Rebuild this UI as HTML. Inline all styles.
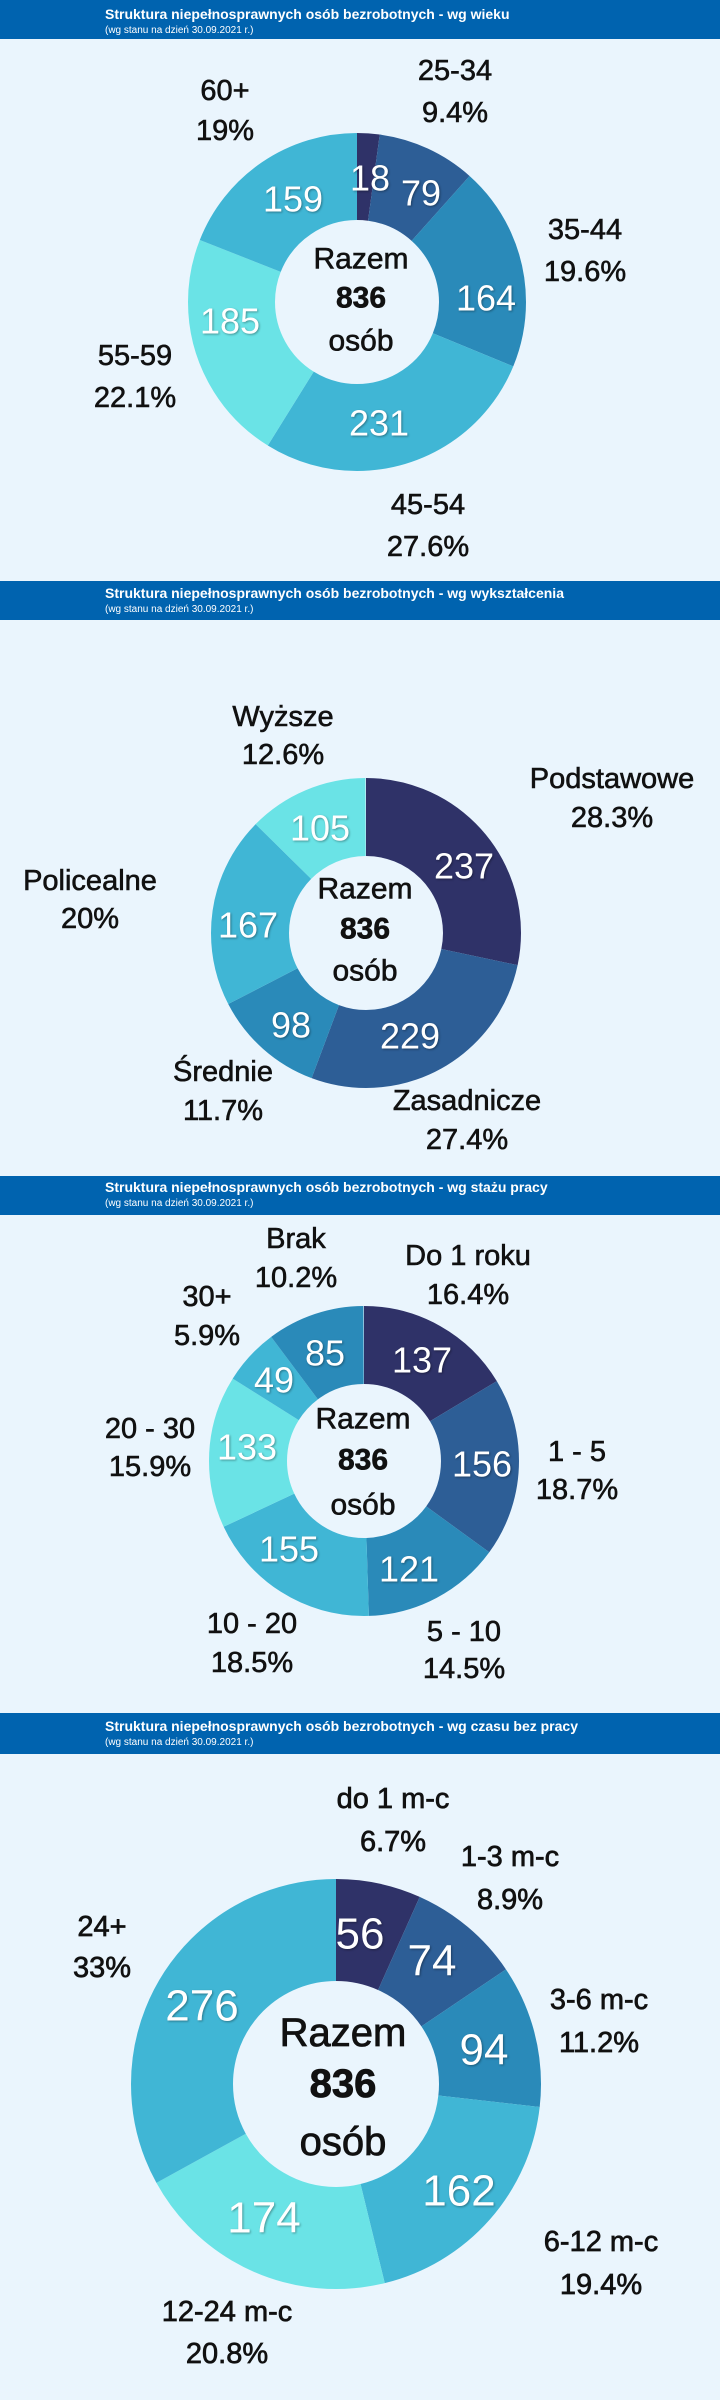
<!DOCTYPE html>
<html><head><meta charset="utf-8"><style>
html,body{margin:0;padding:0;background:#eaf5fd;}
svg{display:block}
.h{fill:#fff;font-family:"Liberation Sans Narrow","Liberation Sans",sans-serif;}
.l{font-family:"Liberation Sans",sans-serif;font-size:29px;fill:#111;stroke:#111;stroke-width:0.6;text-anchor:middle;dominant-baseline:central}
.l4{font-family:"Liberation Sans",sans-serif;font-size:29px;fill:#111;stroke:#111;stroke-width:0.7;text-anchor:middle;dominant-baseline:central}
.v{font-family:"Liberation Sans",sans-serif;font-size:36px;fill:#fff;text-anchor:middle;dominant-baseline:central;text-shadow:1px 1px 2px rgba(0,0,0,.35)}
.v4{font-family:"Liberation Sans",sans-serif;font-size:44px;fill:#fff;text-anchor:middle;dominant-baseline:central;text-shadow:1px 1px 2px rgba(0,0,0,.35)}
.c{font-family:"Liberation Sans",sans-serif;font-size:30px;fill:#111;stroke:#111;stroke-width:0.6;text-anchor:middle;dominant-baseline:central}
.c4{font-family:"Liberation Sans",sans-serif;font-size:40px;fill:#111;stroke:#111;stroke-width:0.8;text-anchor:middle;dominant-baseline:central}
.b{font-weight:bold}
</style></head><body>
<svg width="720" height="2400" viewBox="0 0 720 2400" xmlns="http://www.w3.org/2000/svg">
<rect width="720" height="2400" fill="#eaf5fd"/>

<rect x="0" y="0" width="720" height="39" fill="#0063af"/>
<text class="h b" x="105" y="19" font-size="14">Struktura niepełnosprawnych osób bezrobotnych - wg wieku</text>
<text class="h" x="105" y="33" font-size="10">(wg stanu na dzień 30.09.2021 r.)</text>

<rect x="0" y="581" width="720" height="39" fill="#0063af"/>
<text class="h b" x="105" y="598" font-size="14">Struktura niepełnosprawnych osób bezrobotnych - wg wykształcenia</text>
<text class="h" x="105" y="612" font-size="10">(wg stanu na dzień 30.09.2021 r.)</text>

<rect x="0" y="1176" width="720" height="39" fill="#0063af"/>
<text class="h b" x="105" y="1192" font-size="14">Struktura niepełnosprawnych osób bezrobotnych - wg stażu pracy</text>
<text class="h" x="105" y="1206" font-size="10">(wg stanu na dzień 30.09.2021 r.)</text>

<rect x="0" y="1713" width="720" height="41" fill="#0063af"/>
<text class="h b" x="105" y="1731" font-size="14">Struktura niepełnosprawnych osób bezrobotnych - wg czasu bez pracy</text>
<text class="h" x="105" y="1745" font-size="10">(wg stanu na dzień 30.09.2021 r.)</text>

<g transform="translate(357,302) rotate(-90)" fill="none" stroke-width="87">
<circle r="125.5" pathLength="836" stroke="#2f3268" stroke-dasharray="18 836" stroke-dashoffset="0"/>
<circle r="125.5" pathLength="836" stroke="#2d5e96" stroke-dasharray="79 836" stroke-dashoffset="-18"/>
<circle r="125.5" pathLength="836" stroke="#2a8ab9" stroke-dasharray="164 836" stroke-dashoffset="-97"/>
<circle r="125.5" pathLength="836" stroke="#40b6d5" stroke-dasharray="231 836" stroke-dashoffset="-261"/>
<circle r="125.5" pathLength="836" stroke="#6ae3e6" stroke-dasharray="185 836" stroke-dashoffset="-492"/>
<circle r="125.5" pathLength="836" stroke="#40b6d5" stroke-dasharray="159 836" stroke-dashoffset="-677"/>
</g>
<text class="v" x="370" y="178">18</text>
<text class="v" x="421" y="193">79</text>
<text class="v" x="486" y="298">164</text>
<text class="v" x="379" y="423">231</text>
<text class="v" x="230" y="321">185</text>
<text class="v" x="293" y="199">159</text>
<text class="c" x="361" y="259">Razem</text>
<text class="c b" x="361" y="298">836</text>
<text class="c" x="361" y="341">osób</text>
<text class="l" x="455" y="71">25-34</text><text class="l" x="455" y="113">9.4%</text>
<text class="l" x="225" y="91">60+</text><text class="l" x="225" y="131">19%</text>
<text class="l" x="585" y="230">35-44</text><text class="l" x="585" y="272">19.6%</text>
<text class="l" x="135" y="356">55-59</text><text class="l" x="135" y="398">22.1%</text>
<text class="l" x="428" y="505">45-54</text><text class="l" x="428" y="547">27.6%</text>

<g transform="translate(366,933) rotate(-90)" fill="none" stroke-width="78">
<circle r="116" pathLength="836" stroke="#2f3268" stroke-dasharray="237 836" stroke-dashoffset="0"/>
<circle r="116" pathLength="836" stroke="#2d5e96" stroke-dasharray="229 836" stroke-dashoffset="-237"/>
<circle r="116" pathLength="836" stroke="#2a8ab9" stroke-dasharray="98 836" stroke-dashoffset="-466"/>
<circle r="116" pathLength="836" stroke="#40b6d5" stroke-dasharray="167 836" stroke-dashoffset="-564"/>
<circle r="116" pathLength="836" stroke="#6ae3e6" stroke-dasharray="105 836" stroke-dashoffset="-731"/>
</g>
<text class="v" x="464" y="866">237</text>
<text class="v" x="410" y="1036">229</text>
<text class="v" x="291" y="1025">98</text>
<text class="v" x="248" y="925">167</text>
<text class="v" x="320" y="828">105</text>
<text class="c" x="365" y="889">Razem</text>
<text class="c b" x="365" y="929">836</text>
<text class="c" x="365" y="971">osób</text>
<text class="l" x="283" y="717">Wyższe</text><text class="l" x="283" y="755">12.6%</text>
<text class="l" x="612" y="779">Podstawowe</text><text class="l" x="612" y="818">28.3%</text>
<text class="l" x="90" y="881">Policealne</text><text class="l" x="90" y="919">20%</text>
<text class="l" x="223" y="1072">Średnie</text><text class="l" x="223" y="1111">11.7%</text>
<text class="l" x="467" y="1101">Zasadnicze</text><text class="l" x="467" y="1140">27.4%</text>

<g transform="translate(364,1461) rotate(-90)" fill="none" stroke-width="78">
<circle r="116" pathLength="836" stroke="#2f3268" stroke-dasharray="137 836" stroke-dashoffset="0"/>
<circle r="116" pathLength="836" stroke="#2d5e96" stroke-dasharray="156 836" stroke-dashoffset="-137"/>
<circle r="116" pathLength="836" stroke="#2a8ab9" stroke-dasharray="121 836" stroke-dashoffset="-293"/>
<circle r="116" pathLength="836" stroke="#40b6d5" stroke-dasharray="155 836" stroke-dashoffset="-414"/>
<circle r="116" pathLength="836" stroke="#6ae3e6" stroke-dasharray="133 836" stroke-dashoffset="-569"/>
<circle r="116" pathLength="836" stroke="#40b6d5" stroke-dasharray="49 836" stroke-dashoffset="-702"/>
<circle r="116" pathLength="836" stroke="#2a8ab9" stroke-dasharray="85 836" stroke-dashoffset="-751"/>
</g>
<text class="v" x="422" y="1360">137</text>
<text class="v" x="482" y="1464">156</text>
<text class="v" x="409" y="1569">121</text>
<text class="v" x="289" y="1549">155</text>
<text class="v" x="247" y="1447">133</text>
<text class="v" x="274" y="1380">49</text>
<text class="v" x="325" y="1353">85</text>
<text class="c" x="363" y="1419">Razem</text>
<text class="c b" x="363" y="1460">836</text>
<text class="c" x="363" y="1505">osób</text>
<text class="l" x="296" y="1239">Brak</text><text class="l" x="296" y="1278">10.2%</text>
<text class="l" x="468" y="1256">Do 1 roku</text><text class="l" x="468" y="1295">16.4%</text>
<text class="l" x="207" y="1297">30+</text><text class="l" x="207" y="1336">5.9%</text>
<text class="l" x="150" y="1429">20 - 30</text><text class="l" x="150" y="1467">15.9%</text>
<text class="l" x="577" y="1452">1 - 5</text><text class="l" x="577" y="1490">18.7%</text>
<text class="l" x="252" y="1624">10 - 20</text><text class="l" x="252" y="1663">18.5%</text>
<text class="l" x="464" y="1632">5 - 10</text><text class="l" x="464" y="1669">14.5%</text>

<g transform="translate(336,2084) rotate(-90)" fill="none" stroke-width="102">
<circle r="154" pathLength="836" stroke="#2f3268" stroke-dasharray="56 836" stroke-dashoffset="0"/>
<circle r="154" pathLength="836" stroke="#2d5e96" stroke-dasharray="74 836" stroke-dashoffset="-56"/>
<circle r="154" pathLength="836" stroke="#2a8ab9" stroke-dasharray="94 836" stroke-dashoffset="-130"/>
<circle r="154" pathLength="836" stroke="#40b6d5" stroke-dasharray="162 836" stroke-dashoffset="-224"/>
<circle r="154" pathLength="836" stroke="#6ae3e6" stroke-dasharray="174 836" stroke-dashoffset="-386"/>
<circle r="154" pathLength="836" stroke="#40b6d5" stroke-dasharray="276 836" stroke-dashoffset="-560"/>
</g>
<text class="v4" x="360" y="1934">56</text>
<text class="v4" x="432" y="1961">74</text>
<text class="v4" x="484" y="2050">94</text>
<text class="v4" x="459" y="2191">162</text>
<text class="v4" x="264" y="2218">174</text>
<text class="v4" x="202" y="2006">276</text>
<text class="c4" x="343" y="2033">Razem</text>
<text class="c4 b" x="343" y="2084">836</text>
<text class="c4" x="343" y="2142">osób</text>
<text class="l4" x="393" y="1799">do 1 m-c</text><text class="l4" x="393" y="1842">6.7%</text>
<text class="l4" x="510" y="1857">1-3 m-c</text><text class="l4" x="510" y="1900">8.9%</text>
<text class="l4" x="599" y="2000">3-6 m-c</text><text class="l4" x="599" y="2043">11.2%</text>
<text class="l4" x="601" y="2242">6-12 m-c</text><text class="l4" x="601" y="2285">19.4%</text>
<text class="l4" x="227" y="2312">12-24 m-c</text><text class="l4" x="227" y="2354">20.8%</text>
<text class="l4" x="102" y="1927">24+</text><text class="l4" x="102" y="1968">33%</text>
</svg>
</body></html>
